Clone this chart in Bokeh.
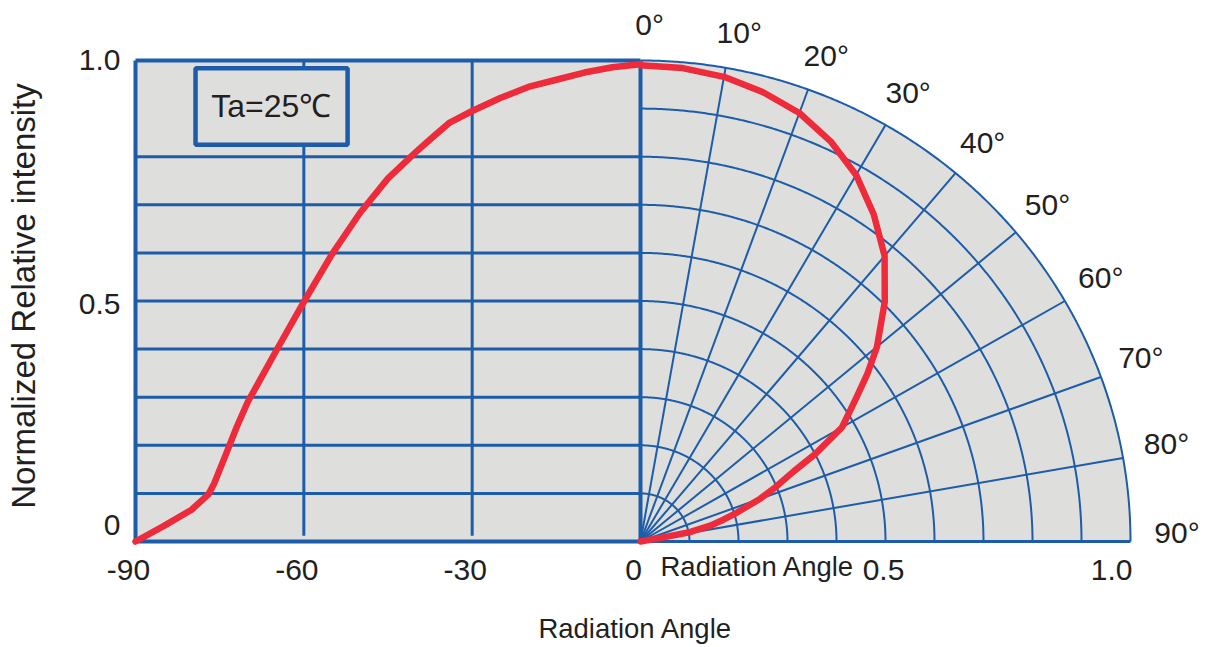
import numpy as np
from bokeh.plotting import figure
from bokeh.models import Range1d
from bokeh.core.properties import value
from bokeh.embed import file_html
from bokeh.resources import INLINE

# ---------------- data ----------------
left_angle = [-90, -85, -80, -77, -76, -74, -72, -70, -68, -65, -60, -55, -50,
              -45, -40, -37, -34, -30, -25, -20, -15, -10, -5, 0]
left_intensity = [0.0, 0.032, 0.066, 0.098, 0.12, 0.178, 0.237, 0.29, 0.332,
                  0.395, 0.498, 0.597, 0.683, 0.755, 0.81, 0.841, 0.871, 0.895,
                  0.922, 0.945, 0.960, 0.975, 0.986, 0.992]

polar_angle = [0, 5, 10, 15, 20, 25, 30, 35, 40, 45, 50, 53, 56, 60, 63, 65,
               68, 70, 73, 75, 77, 79, 79.5, 80]
polar_intensity = [0.99, 0.988, 0.981, 0.967, 0.948, 0.918, 0.88, 0.83, 0.775,
                   0.705, 0.63, 0.58, 0.53, 0.475, 0.40, 0.345, 0.293, 0.26,
                   0.206, 0.175, 0.146, 0.104, 0.05, 0.0]

left_x_ticks = [-90, -60, -30, 0]
left_x_labels = ["-90", "-60", "-30", "0"]
y_ticks = [0.0, 0.5, 1.0]
y_labels = ["0", "0.5", "1.0"]
r_ticks = [0.5, 1.0]
r_labels = ["0.5", "1.0"]
left_grid_levels = [0.1, 0.2, 0.3, 0.4, 0.5, 0.6, 0.7, 0.8]
left_grid_angles = [-60, -30]
polar_rings = [0.1, 0.2, 0.3, 0.4, 0.5, 0.6, 0.7, 0.8, 0.9]
spoke_angles = [10, 20, 30, 40, 50, 60, 70, 80]
degree_ticks = [0, 10, 20, 30, 40, 50, 60, 70, 80, 90]
degree_labels = ["0°", "10°", "20°", "30°", "40°", "50°", "60°", "70°", "80°", "90°"]
title_text = "Ta=25℃"
x_title = "Radiation Angle"
y_title = "Normalized Relative intensity"

# ---------------- layout / style ----------------
W, H = 1210, 645
CX, CY = 640, 541          # polar origin in canvas pixels (from left, from top)
SX, SY = 490.0, 481.0      # pixels per unit intensity
DEG_PX = 505.0 / 90.0      # pixels per degree in the left panel

BLUE = "#1d5ca8"
GRAY = "#dedfdd"
RED = "#ee2b3b"
TXT = "#231f20"
FONT = value("Liberation Sans")

p = figure(width=W, height=H,
           x_range=Range1d(-CX / SX, (W - CX) / SX),
           y_range=Range1d(-(H - CY) / SY, CY / SY),
           output_backend="svg", toolbar_location=None,
           x_axis_location=None, y_axis_location=None)
p.extra_x_ranges = {"deg": Range1d(-CX / DEG_PX, (W - CX) / DEG_PX)}
p.min_border_left = p.min_border_right = 0
p.min_border_top = p.min_border_bottom = 0
p.outline_line_color = None
p.grid.grid_line_color = None
p.background_fill_color = "white"
p.border_fill_color = "white"

# left cartesian panel background
p.quad(left=-90, right=0, bottom=0, top=1, x_range_name="deg",
       fill_color=GRAY, line_color=None)

# polar quarter background
th = np.radians(np.linspace(0, 90, 361))
p.patch([0] + list(np.sin(th)) + [0], [0] + list(np.cos(th)) + [0],
        fill_color=GRAY, line_color=None)

# polar rings and spokes
p.multi_line([list(r * np.sin(th)) for r in polar_rings],
             [list(r * np.cos(th)) for r in polar_rings],
             line_color=BLUE, line_width=2)
sp = np.radians(spoke_angles)
p.multi_line([[0, np.sin(a)] for a in sp], [[0, np.cos(a)] for a in sp],
             line_color=BLUE, line_width=2)
p.line(np.sin(th), np.cos(th), line_color=BLUE, line_width=2)
p.line([0, 1], [0, 0], line_color=BLUE, line_width=3)

# left panel grid
p.multi_line([[-90, 0] for _ in left_grid_levels],
             [[v, v] for v in left_grid_levels],
             x_range_name="deg", line_color=BLUE, line_width=3)
p.multi_line([[a, a] for a in left_grid_angles],
             [[0.012, 1] for _ in left_grid_angles],
             x_range_name="deg", line_color=BLUE, line_width=3)
# left panel border
p.multi_line([[-90, 0], [-90, 0], [-90, -90], [0, 0]],
             [[1, 1], [0, 0], [0, 1], [0, 1]],
             x_range_name="deg", line_color=BLUE, line_width=4)

# condition box
p.quad(left=-79.3, right=-52.2, bottom=0.825, top=0.984, x_range_name="deg",
       fill_color=GRAY, line_color=BLUE, line_width=4.5)
p.text(x=[-65.8], y=[0.905], text=[title_text], x_range_name="deg",
       text_align="center", text_baseline="middle", text_font=FONT,
       text_font_size="32px", text_color=TXT)

# curves
p.line(left_angle, left_intensity, x_range_name="deg", line_color=RED,
       line_width=6.5, line_join="round", line_cap="round")
pa = np.radians(polar_angle)
pr = np.array(polar_intensity)
p.line(pr * np.sin(pa), pr * np.cos(pa), line_color=RED,
       line_width=6.5, line_join="round", line_cap="round")

# tick labels: left bottom
p.text(x=left_x_ticks, y=[0] * len(left_x_ticks), text=left_x_labels,
       x_range_name="deg", x_offset=-7, y_offset=28,
       text_align="center", text_baseline="middle",
       text_font=FONT, text_font_size="30px", text_color=TXT)
# tick labels: left y
p.text(x=[-90] * len(y_ticks), y=y_ticks, text=y_labels, x_range_name="deg",
       x_offset=-15, y_offset=[-17, 3, -1],
       text_align="right", text_baseline="middle",
       text_font=FONT, text_font_size="30px", text_color=TXT)
# tick labels: polar radius
p.text(x=r_ticks, y=[0] * len(r_ticks), text=r_labels, y_offset=28,
       x_offset=[-2, 2], text_align=["center", "right"], text_baseline="middle",
       text_font=FONT, text_font_size="30px", text_color=TXT)
# degree labels (placed just outside the outer arc)
dt = np.array(degree_ticks, dtype=float)
da = np.radians(dt + 1.0 - dt / 45.0)
dr = 1.075 + 0.02 * dt / 90.0
p.text(x=dr * np.sin(da), y=dr * np.cos(da), text=degree_labels,
       text_align="center", text_baseline="middle",
       text_font=FONT, text_font_size="30px", text_color=TXT)

# axis titles
p.text(x=[0], y=[0], text=[x_title], x_offset=20, y_offset=25,
       text_align="left", text_baseline="middle",
       text_font=FONT, text_font_size="27.5px", text_color=TXT)
p.text(x=[0], y=[0], text=[x_title], x_offset=-5, y_offset=87,
       text_align="center", text_baseline="middle",
       text_font=FONT, text_font_size="27.5px", text_color=TXT)
p.text(x=[p.x_range.start], y=[0.5], text=[y_title], x_offset=23, y_offset=-5,
       angle=np.pi / 2, text_align="center", text_baseline="middle",
       text_font=FONT, text_font_size="33px", text_color=TXT)

open("out.html", "w").write(file_html(p, INLINE))
